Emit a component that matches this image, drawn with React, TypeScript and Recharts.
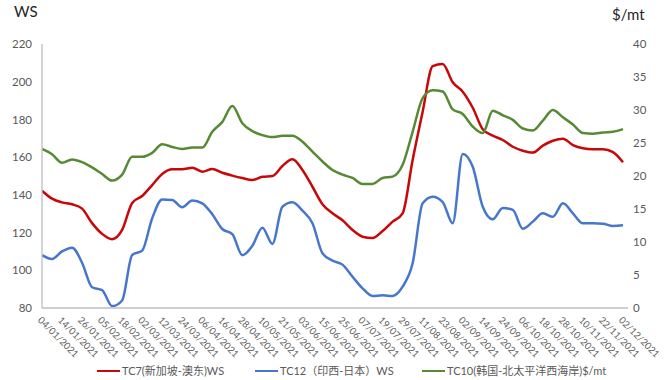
import React from 'react';
import { LineChart, Line, XAxis, YAxis } from 'recharts';

// x-axis tick labels (one every 8 trading days)
const tickLabels = [
  '04/01/2021', '14/01/2021', '26/01/2021', '05/02/2021', '18/02/2021', '02/03/2021',
  '12/03/2021', '24/03/2021', '06/04/2021', '16/04/2021', '28/04/2021', '10/05/2021',
  '21/05/2021', '03/06/2021', '15/06/2021', '25/06/2021', '07/07/2021', '19/07/2021',
  '29/07/2021', '11/08/2021', '23/08/2021', '02/09/2021', '14/09/2021', '24/09/2021',
  '06/10/2021', '18/10/2021', '28/10/2021', '10/11/2021', '22/11/2021', '02/12/2021',
];

// readings every 4 trading days
const tc7Values = [
  142.2, 138.0, 136.0, 135.0, 132.7, 125.0, 119.3, 116.5, 121.4, 135.7,
  139.4, 145.2, 151.1, 153.6, 153.6, 154.4, 152.3, 153.7, 151.7, 150.2,
  148.9, 147.9, 149.6, 150.0, 155.3, 158.9, 153.2, 144.3, 135.0, 130.2,
  126.5, 121.4, 117.8, 117.1, 120.8, 125.8, 130.2, 158.5, 184.1, 208.3,
  209.4, 199.7, 194.7, 186.2, 174.8, 171.4, 169.1, 165.5, 163.4, 162.4,
  166.1, 168.7, 169.8, 166.4, 164.7, 164.2, 164.2, 162.7, 157.3,
];

const tc12Values = [
  108.0, 106.0, 110.0, 112.0, 104.0, 91.0, 89.5, 81.0, 84.0, 108.1,
  110.4, 127.6, 137.6, 137.3, 133.4, 137.0, 135.5, 129.7, 121.9, 119.2,
  108.0, 113.0, 122.6, 114.0, 133.7, 136.1, 131.6, 124.9, 109.0, 105.1,
  103.0, 96.6, 90.4, 86.4, 86.7, 86.4, 91.3, 103.7, 135.5, 139.0,
  136.2, 125.0, 161.7, 154.9, 133.7, 127.0, 133.0, 132.0, 122.0, 125.8,
  130.2, 128.4, 135.5, 130.2, 124.9, 124.9, 124.7, 123.5, 123.9,
];

const tc10Values = [
  24.1, 23.3, 22.0, 22.5, 22.1, 21.3, 20.3, 19.3, 20.2, 22.9,
  22.9, 23.5, 24.8, 24.4, 24.1, 24.3, 24.3, 26.7, 28.2, 30.6,
  28.0, 26.8, 26.2, 25.9, 26.1, 26.1, 25.2, 23.7, 22.2, 20.9,
  20.2, 19.7, 18.8, 18.8, 19.7, 19.9, 21.7, 26.7, 31.8, 33.0,
  32.8, 30.1, 29.4, 27.5, 26.5, 29.9, 29.2, 28.5, 27.2, 26.9,
  28.4, 30.0, 28.9, 27.8, 26.5, 26.4, 26.6, 26.7, 27.1,
];

const leftTicks = [80, 100, 120, 140, 160, 180, 200, 220];
const rightTicks = [0, 5, 10, 15, 20, 25, 30, 35, 40];

const READ_STEP = 4;
const TICK_STEP = 8;

const data = tc7Values.map((v, k) => ({
  day: k * READ_STEP,
  tc7: v,
  tc12: tc12Values[k],
  tc10: tc10Values[k],
}));
const xTicks = tickLabels.map((_, j) => j * TICK_STEP);

const FONT = "Lato, 'Noto Sans CJK SC', sans-serif";
const RED = '#C80808';
const BLUE = '#4777CC';
const GREEN = '#568A34';
const TEXT = '#595959';

const legendItems = [
  { label: 'TC7(新加坡-澳东)WS', color: RED, left: 97 },
  { label: 'TC12（印西-日本）WS', color: BLUE, left: 255 },
  { label: 'TC10(韩国-北太平洋西海岸)$/mt', color: GREEN, left: 422 },
];

export default function App() {
  return (
    <div style={{ position: 'absolute', left: 0, top: 0, width: 670, height: 380, background: '#fff', fontFamily: FONT }}>
      <LineChart width={670} height={380} data={data} margin={{ top: 44, right: 0, bottom: 0, left: 0 }}>
        <XAxis
          dataKey="day"
          type="number"
          domain={[0, 234]}
          allowDataOverflow
          ticks={xTicks}
          interval={0}
          tickFormatter={(v: number) => tickLabels[Math.round(v / TICK_STEP)]}
          height={72}
          angle={45}
          textAnchor="start"
          tick={{ fontSize: 9.5, fill: TEXT, fontFamily: FONT }}
          tickLine={false}
          tickMargin={2}
          axisLine={{ stroke: '#BFBFBF', strokeWidth: 1.3 }}
        />
        <YAxis
          yAxisId="left"
          domain={[80, 220]}
          ticks={leftTicks}
          interval={0}
          width={42}
          tick={{ fontSize: 11.5, fill: TEXT, fontFamily: FONT }}
          tickLine={false}
          tickMargin={4}
          axisLine={{ stroke: '#BFBFBF', strokeWidth: 1.3 }}
        />
        <YAxis
          yAxisId="right"
          orientation="right"
          domain={[0, 40]}
          ticks={rightTicks}
          interval={0}
          width={42}
          tick={{ fontSize: 11.5, fill: TEXT, fontFamily: FONT }}
          tickLine={false}
          tickSize={3}
          tickMargin={2}
          axisLine={false}
        />
        <Line yAxisId="left" dataKey="tc7" type="monotone" stroke={RED} strokeWidth={2.5} dot={false} isAnimationActive={false} />
        <Line yAxisId="left" dataKey="tc12" type="monotone" stroke={BLUE} strokeWidth={2.5} dot={false} isAnimationActive={false} />
        <Line yAxisId="right" dataKey="tc10" type="monotone" stroke={GREEN} strokeWidth={2.5} dot={false} isAnimationActive={false} />
      </LineChart>

      <div style={{ position: 'absolute', left: 14, top: 2, fontSize: 15, color: '#262626', lineHeight: '18px' }}>WS</div>
      <div style={{ position: 'absolute', left: 612, top: 5, fontSize: 15, color: '#262626', lineHeight: '18px' }}>$/mt</div>

      {legendItems.map((it) => (
        <div key={it.label} style={{ position: 'absolute', left: it.left, top: 363, height: 16, display: 'flex', alignItems: 'center', whiteSpace: 'nowrap' }}>
          <div style={{ width: 23, height: 2.5, background: it.color, marginRight: 2 }} />
          <span style={{ fontSize: 11, color: TEXT, lineHeight: '16px' }}>{it.label}</span>
        </div>
      ))}
    </div>
  );
}
